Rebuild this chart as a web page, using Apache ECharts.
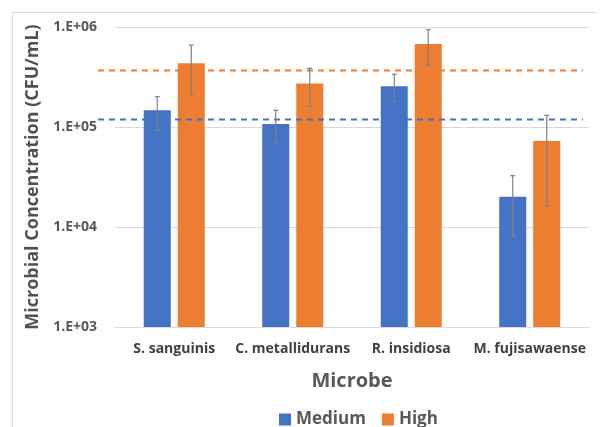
<!DOCTYPE html>
<html><head><meta charset="utf-8">
<script src="https://cdn.jsdelivr.net/npm/echarts@6/dist/echarts.min.js"></script>
<style>html,body{margin:0;padding:0;background:#fff}#c{width:601px;height:427px}</style>
</head><body><div id="c"></div>
<script>
var categories = ['S. sanguinis', 'C. metallidurans', 'R. insidiosa', 'M. fujisawaense'];
var seriesNames = ['Medium', 'High'];
var mediumValues = [147000, 107000, 255000, 20100];
var mediumErrLow = [93000, 70000, 179000, 8100];
var mediumErrHigh = [201000, 147000, 337000, 32600];
var highValues = [433000, 273000, 676000, 72400];
var highErrLow = [212000, 161000, 414000, 16200];
var highErrHigh = [660000, 386000, 940000, 131000];
var mediumRef = [119000, 119000];
var highRef = [367000, 367000];
var yTickLabels = ['1.E+03', '1.E+04', '1.E+05', '1.E+06'];

var BLUE = '#4472C4', ORANGE = '#ED7D31', FONT = '"Open Sans", "Liberation Sans", sans-serif';
var BAR_W = 27, GAP = 7;

function errSeries(low, high, sign) {
  return {
    type: 'custom', xAxisIndex: 0, yAxisIndex: 0, z: 5,
    data: categories.map(function (c, i) { return [i, low[i], high[i]]; }),
    renderItem: function (params, api) {
      var off = sign * (BAR_W / 2 + GAP / 2);
      var lo = api.coord([api.value(0), api.value(1)]);
      var hi = api.coord([api.value(0), api.value(2)]);
      var x = lo[0] + off;
      var st = { stroke: '#808080', lineWidth: 1.2 };
      return { type: 'group', children: [
        { type: 'line', shape: { x1: x, y1: lo[1], x2: x, y2: hi[1] }, style: st },
        { type: 'line', shape: { x1: x - 2.5, y1: lo[1], x2: x + 2.5, y2: lo[1] }, style: st },
        { type: 'line', shape: { x1: x - 2.5, y1: hi[1], x2: x + 2.5, y2: hi[1] }, style: st }
      ]};
    }
  };
}

var chart = echarts.init(document.getElementById('c'));
chart.setOption({
  animation: false,
  graphic: [
    { type: 'line', shape: { x1: 12, y1: 12.5, x2: 597, y2: 12.5 }, style: { stroke: '#d9d9d9', lineWidth: 1 } },
    { type: 'line', shape: { x1: 12.5, y1: 12, x2: 12.5, y2: 427 }, style: { stroke: '#d9d9d9', lineWidth: 1 } }
  ],
  grid: [
    { left: 115, right: 12, top: 27, bottom: 100 },
    { left: 98, right: 18, top: 27, bottom: 100 }
  ],
  legend: {
    data: seriesNames, left: 274, top: 406, itemWidth: 12, itemHeight: 12, itemGap: 16,
    textStyle: { fontFamily: FONT, fontWeight: 'bold', fontSize: 17, color: '#595959' },
    icon: 'rect'
  },
  xAxis: [
    { type: 'category', gridIndex: 0, data: categories,
      axisLine: { lineStyle: { color: '#d9d9d9' } }, axisTick: { show: false },
      axisLabel: { interval: 0, fontFamily: FONT, fontWeight: 'bold', fontSize: 14, color: '#404040', margin: 15 },
      name: 'Microbe', nameLocation: 'middle', nameGap: 44,
      nameTextStyle: { fontFamily: FONT, fontWeight: 'bold', fontSize: 20, color: '#595959' } },
    { type: 'value', gridIndex: 1, min: 0, max: 1, show: false }
  ],
  yAxis: [
    { type: 'log', gridIndex: 0, logBase: 10, min: 1000, max: 1000000,
      axisLine: { show: false }, axisTick: { show: false },
      splitLine: { lineStyle: { color: '#d9d9d9' } },
      axisLabel: { fontFamily: FONT, fontWeight: 'bold', fontSize: 14, color: '#595959', margin: 18,
        formatter: function (v) { return yTickLabels[Math.round(Math.log10(v)) - 3]; } },
      name: 'Microbial Concentration (CFU/mL)', nameLocation: 'middle', nameGap: 67,
      nameTextStyle: { fontFamily: FONT, fontWeight: 'bold', fontSize: 18, color: '#505050' } },
    { type: 'log', gridIndex: 1, logBase: 10, min: 1000, max: 1000000, show: false }
  ],
  series: [
    { name: seriesNames[0], type: 'bar', data: mediumValues, barWidth: BAR_W, barGap: (GAP / BAR_W * 100) + '%',
      itemStyle: { color: BLUE } },
    { name: seriesNames[1], type: 'bar', data: highValues, barWidth: BAR_W,
      itemStyle: { color: ORANGE } },
    errSeries(mediumErrLow, mediumErrHigh, -1),
    errSeries(highErrLow, highErrHigh, 1),
    { type: 'line', xAxisIndex: 1, yAxisIndex: 1, symbol: 'none', z: 4,
      data: [[0, mediumRef[0]], [1, mediumRef[1]]],
      lineStyle: { color: BLUE, width: 2, type: [6, 5] } },
    { type: 'line', xAxisIndex: 1, yAxisIndex: 1, symbol: 'none', z: 4,
      data: [[0, highRef[0]], [1, highRef[1]]],
      lineStyle: { color: ORANGE, width: 2, type: [6, 5] } }
  ]
});
</script></body></html>
